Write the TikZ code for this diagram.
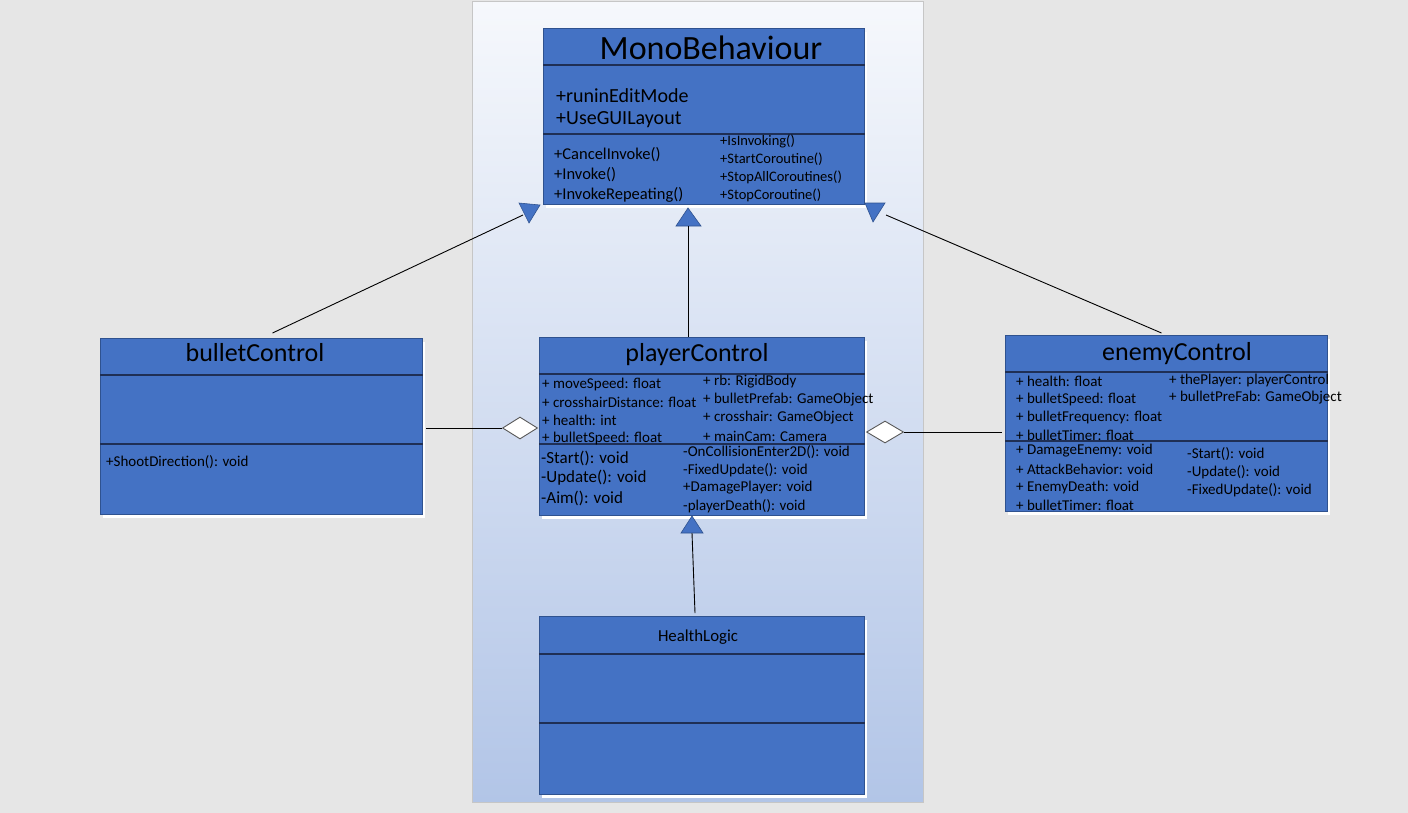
\documentclass[tikz,border=0pt]{standalone}
\usepackage{fontspec}
\setmainfont{Carlito}
\usetikzlibrary{positioning,shapes.geometric,shadows}
\definecolor{boxblue}{HTML}{4472C4}
\definecolor{boxedge}{HTML}{2F528F}
\definecolor{divline}{HTML}{1F2F55}
\definecolor{canvas}{HTML}{E6E6E6}
\definecolor{paneltop}{HTML}{F6F8FC}
\definecolor{panelbot}{HTML}{B2C5E7}
\newcommand{\fsz}[1]{\fontsize{#1}{#1}\selectfont}
\tikzstyle{classbox} = [draw=boxedge, fill=boxblue, line width=1pt, inner sep=0pt, anchor=north west,
    drop shadow={shadow xshift=2pt, shadow yshift=-3pt, fill=white, opacity=1}]
\tikzstyle{divider} = [draw=divline, line width=2pt]
\tikzstyle{member} = [anchor=west, inner sep=0pt, text=black]
\tikzstyle{gen} = [fill=boxblue, draw=boxedge, line width=0.6pt]
\tikzstyle{agg} = [diamond, fill=white, draw=gray!70!black, line width=0.9pt, inner sep=0pt, aspect=1.6]
\tikzstyle{conn} = [line width=0.9pt, -]

\begin{document}
\begin{tikzpicture}[x=1pt, y=-1pt]
        \useasboundingbox (0,0) rectangle (1408,812);
        \fill[canvas] (-10,-10) rectangle (1420,830);
        \shade[top color=paneltop, bottom color=panelbot] (472,1) rectangle (923,802);
        \draw[gray!45, line width=0.8pt] (472,1) rectangle (923,802);

        % MonoBehaviour
        \node[classbox, minimum width=321pt, minimum height=176pt] (mono) at (543,28) {};
            \draw[divider] ([yshift=-37pt]mono.north west) -- ([yshift=-37pt]mono.north east);
            \draw[divider] ([yshift=-106pt]mono.north west) -- ([yshift=-106pt]mono.north east);
            \node[font=\fsz{34}] (monotitle) at (711,48) {MonoBehaviour};
            \node[member, font=\fsz{20}] (runin) at (556,96) {+runinEditMode};
            \node[member, font=\fsz{20}] (usegui) at (556,120) {+UseGUILayout};
            \node[member, font=\fsz{16.5}] (cancel) at (554,155) {+CancelInvoke()};
            \node[member, font=\fsz{16.5}] (invoke) at (554,175) {+Invoke()};
            \node[member, font=\fsz{16.5}] (invrep) at (554,195) {+InvokeRepeating()};
            \node[member, font=\fsz{14.5}] (isinv) at (720,141) {+IsInvoking()};
            \node[member, font=\fsz{14.5}] (startco) at (720,159) {+StartCoroutine()};
            \node[member, font=\fsz{14.5}] (stopall) at (720,177) {+StopAllCoroutines()};
            \node[member, font=\fsz{14.5}] (stopco) at (720,195) {+StopCoroutine()};

        % bulletControl
        \node[classbox, minimum width=322pt, minimum height=176pt] (bullet) at (100,338) {};
            \draw[divider] ([yshift=-37pt]bullet.north west) -- ([yshift=-37pt]bullet.north east);
            \draw[divider] ([yshift=-106pt]bullet.north west) -- ([yshift=-106pt]bullet.north east);
            \node[font=\fsz{26}] (bullettitle) at (255,353) {bulletControl};
            \node[member, font=\fsz{15}] (shoot) at (106,462) {+ShootDirection(): void};

        % playerControl
        \node[classbox, minimum width=325pt, minimum height=178pt] (player) at (539,337) {};
            \draw[divider] ([yshift=-37pt]player.north west) -- ([yshift=-37pt]player.north east);
            \draw[divider] ([yshift=-107pt]player.north west) -- ([yshift=-107pt]player.north east);
            \node[font=\fsz{26}] (playertitle) at (697,355) {playerControl};
            \node[member, font=\fsz{15}] (pa1) at (542,384) {+ moveSpeed: float};
            \node[member, font=\fsz{15}] (pa2) at (542,402) {+ crosshairDistance: float};
            \node[member, font=\fsz{15}] (pa3) at (542,420) {+ health: int};
            \node[member, font=\fsz{15}] (pa4) at (542,438) {+ bulletSpeed: float};
            \node[member, font=\fsz{15}] (pa5) at (703,382) {+ rb: RigidBody};
            \node[member, font=\fsz{15}] (pa6) at (703,400) {+ bulletPrefab: GameObject};
            \node[member, font=\fsz{15}] (pa7) at (703,418) {+ crosshair: GameObject};
            \node[member, font=\fsz{15}] (pa8) at (703,436) {+ mainCam: Camera};
            \node[member, font=\fsz{17}] (pm1) at (541,458) {-Start(): void};
            \node[member, font=\fsz{17}] (pm2) at (541,478) {-Update(): void};
            \node[member, font=\fsz{17}] (pm3) at (541,498) {-Aim(): void};
            \node[member, font=\fsz{15}] (pm4) at (683,452) {-OnCollisionEnter2D(): void};
            \node[member, font=\fsz{15}] (pm5) at (683,470) {-FixedUpdate(): void};
            \node[member, font=\fsz{15}] (pm6) at (683,488) {+DamagePlayer: void};
            \node[member, font=\fsz{15}] (pm7) at (683,506) {-playerDeath(): void};

        % enemyControl
        \node[classbox, minimum width=322pt, minimum height=176pt] (enemy) at (1005,335) {};
            \draw[divider] ([yshift=-37pt]enemy.north west) -- ([yshift=-37pt]enemy.north east);
            \draw[divider] ([yshift=-106pt]enemy.north west) -- ([yshift=-106pt]enemy.north east);
            \node[font=\fsz{26}] (enemytitle) at (1177,354) {enemyControl};
            \node[member, font=\fsz{15}] (ea1) at (1016,381) {+ health: float};
            \node[member, font=\fsz{15}] (ea2) at (1016,399) {+ bulletSpeed: float};
            \node[member, font=\fsz{15}] (ea3) at (1016,417) {+ bulletFrequency: float};
            \node[member, font=\fsz{15}] (ea4) at (1016,435) {+ bulletTimer: float};
            \node[member, font=\fsz{15}] (ea5) at (1169,380) {+ thePlayer: playerControl};
            \node[member, font=\fsz{15}] (ea6) at (1169,398) {+ bulletPreFab: GameObject};
            \node[member, font=\fsz{15}] (em1) at (1016,451) {+ DamageEnemy: void};
            \node[member, font=\fsz{15}] (em2) at (1016,469) {+ AttackBehavior: void};
            \node[member, font=\fsz{15}] (em3) at (1016,487) {+ EnemyDeath: void};
            \node[member, font=\fsz{15}] (em4) at (1016,505) {+ bulletTimer: float};
            \node[member, font=\fsz{15}] (em5) at (1187,454) {-Start(): void};
            \node[member, font=\fsz{15}] (em6) at (1187,472) {-Update(): void};
            \node[member, font=\fsz{15}] (em7) at (1187,490) {-FixedUpdate(): void};

        % HealthLogic
        \node[classbox, minimum width=325pt, minimum height=178pt] (health) at (539,616) {};
            \draw[divider] ([yshift=-38pt]health.north west) -- ([yshift=-38pt]health.north east);
            \draw[divider] ([yshift=-107pt]health.north west) -- ([yshift=-107pt]health.north east);
            \node[font=\fsz{16.8}] (healthtitle) at (698,637) {HealthLogic};

        % Generalization heads
        \coordinate (gl1) at (519,203); \coordinate (gl2) at (540,205); \coordinate (gl3) at (529,223);
        \coordinate (glend) at (523,215);
        \fill[gen] (gl1) -- (gl2) -- (gl3) -- cycle;
        \coordinate (gr1) at (865,203); \coordinate (gr2) at (885,203); \coordinate (gr3) at (873,222);
        \coordinate (grend) at (886,215);
        \fill[gen] (gr1) -- (gr2) -- (gr3) -- cycle;
        \coordinate (gm) at (688,208);
        \fill[gen] (gm) -- ++(-12,18) coordinate (gmb) -- ++(25,0) -- cycle;
        \coordinate (gh) at (692,516);
        \fill[gen] (gh) -- ++(-11,17) coordinate (ghb) -- ++(22,0) -- cycle;

        \draw[conn] ([xshift=11pt,yshift=5pt]bullet.north) -- (glend);
        \draw[conn] ([xshift=-5pt,yshift=2pt]enemy.north) -- (grend);
        \draw[conn] ([xshift=12pt]gmb) -- ([xshift=12pt]gmb |- player.north);
        \draw[conn] ([xshift=3pt,yshift=3pt]gh |- health.north) -- ([xshift=11pt]ghb);

        % Aggregation
        \node[agg, minimum width=35pt, minimum height=22pt] (aggl) at (520,428) {};
        \node[agg, minimum width=37pt, minimum height=22pt] (aggr) at (885,432) {};
        \draw[conn] ([xshift=3pt]bullet.east |- aggl) -- (aggl.west);
        \draw[conn] (aggr.east) -- ([xshift=-3pt]enemy.west |- aggr);
\end{tikzpicture}
\end{document}
